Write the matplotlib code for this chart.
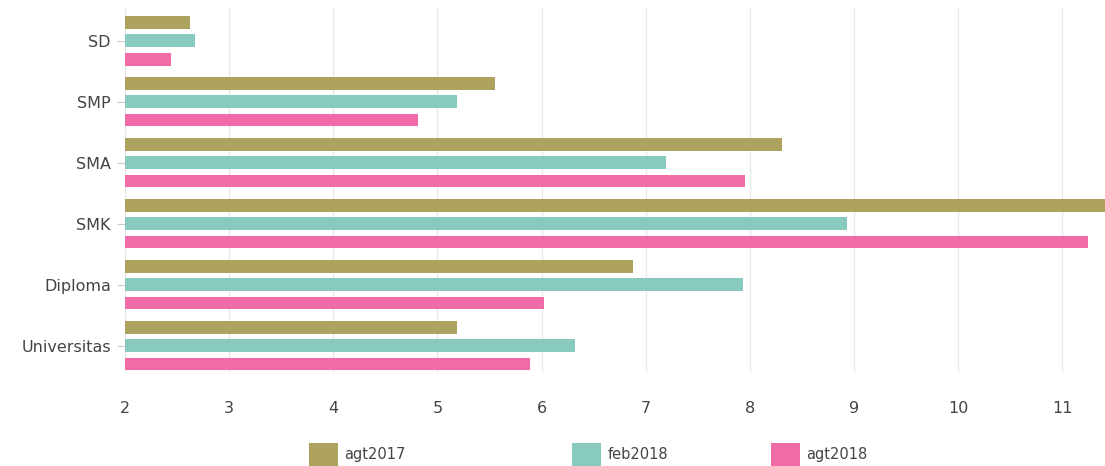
import matplotlib
matplotlib.use("Agg")
import matplotlib.pyplot as plt
import numpy as np

categories = ['SD', 'SMP', 'SMA', 'SMK', 'Diploma', 'Universitas']
series = ['agt2017', 'feb2018', 'agt2018']
agt2017 = [2.63, 5.55, 8.31, 11.5, 6.88, 5.19]
feb2018 = [2.67, 5.19, 7.20, 8.93, 7.93, 6.32]
agt2018 = [2.44, 4.81, 7.95, 11.25, 6.02, 5.89]
xticks = [2, 3, 4, 5, 6, 7, 8, 9, 10, 11]

colors = ['#ada25e', '#88cabd', '#f06ba8']

fig = plt.figure(figsize=(11.05, 4.66), dpi=100)
ax = fig.add_axes([0.113, 0.202, 0.887, 0.781])

ypos = np.arange(len(categories))[::-1]
offsets = [0.30, 0.0, -0.30]
handles = []
for vals, col, off, name in zip([agt2017, feb2018, agt2018], colors, offsets, series):
    b = ax.barh(ypos + off, np.array(vals) - 2, left=2, height=0.21,
                color=col, label=name, zorder=2)
    handles.append(b)

ax.set_xlim(2, 11.41)
ax.set_ylim(-0.43, 5.54)
ax.set_xticks(xticks)
ax.set_yticks(ypos)
ax.set_yticklabels(categories)
ax.grid(axis='x', color='#e8e8e8', lw=1, zorder=0)
for s in ax.spines.values():
    s.set_visible(False)
ax.tick_params(axis='x', length=0, labelsize=11.5, colors='#444444', pad=21)
ax.tick_params(axis='y', length=6, color='#cccccc', labelsize=11.5,
               labelcolor='#444444', pad=4)

legend_x = [0.268, 0.506, 0.686]
for h, name, lx in zip(handles, series, legend_x):
    fig.legend([h], [name], loc='lower left', bbox_to_anchor=(lx, -0.028),
               frameon=False, fontsize=10.5, handlelength=2.0, handleheight=2.0,
               handletextpad=0.4, labelcolor='#444444')

fig.savefig('out.png', dpi=100)
